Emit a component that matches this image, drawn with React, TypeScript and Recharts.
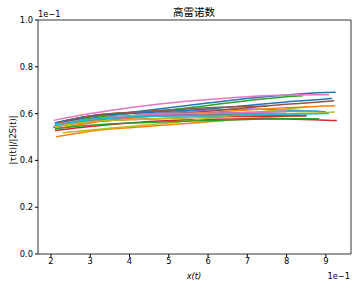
import React from "react";
import { LineChart, Line, XAxis, YAxis, ReferenceArea } from "recharts";

// Each series: [x, y] pairs (x in units of 1e-1, y in units of 1e-1 scale shown)
const s01 = [[2.1, 0.555], [3, 0.585], [4, 0.605], [5, 0.625], [6, 0.645], [7, 0.665], [8, 0.68], [9, 0.69], [9.25, 0.691]];
const s02 = [[2.13, 0.501], [3, 0.525], [4, 0.54], [5, 0.552], [6, 0.565], [7, 0.578], [8, 0.59], [8.3, 0.595]];
const s03 = [[2.1, 0.545], [3, 0.58], [4, 0.6], [5, 0.615], [6, 0.635], [7, 0.655], [8, 0.672], [8.42, 0.676]];
const s04 = [[2.1, 0.528], [3, 0.545], [4, 0.56], [5, 0.57], [6, 0.575], [7, 0.578], [8, 0.577], [9, 0.572], [9.28, 0.57]];
const s05 = [[2.05, 0.541], [3, 0.57], [4, 0.59], [5, 0.605], [6, 0.615], [7, 0.62], [8, 0.615], [9, 0.608]];
const s06 = [[2.1, 0.55], [3, 0.575], [4, 0.59], [5, 0.6], [6, 0.61], [7, 0.625], [8, 0.64], [9, 0.652], [9.21, 0.655]];
const s07 = [[2.07, 0.571], [3, 0.6], [4, 0.625], [5, 0.645], [6, 0.66], [7, 0.672], [8, 0.68], [9.08, 0.681]];
const s08 = [[2.1, 0.56], [3, 0.59], [4, 0.605], [5, 0.6], [6, 0.59], [7, 0.59], [8, 0.592], [8.52, 0.593]];
const s09 = [[2.3, 0.518], [3, 0.53], [4, 0.545], [5, 0.56], [6, 0.58], [7, 0.6], [8, 0.62], [8.57, 0.628]];
const s10 = [[2.1, 0.548], [3, 0.575], [4, 0.59], [5, 0.6], [6, 0.6], [7, 0.605], [8, 0.61], [8.8, 0.611]];
const s11 = [[2.1, 0.56], [3, 0.59], [4, 0.6], [5, 0.61], [6, 0.62], [7, 0.635], [8, 0.65], [9, 0.662], [9.16, 0.665]];
const s12 = [[2.1, 0.535], [3, 0.56], [4, 0.58], [5, 0.595], [6, 0.605], [7, 0.615], [8, 0.625], [9, 0.632], [9.23, 0.634]];
const s13 = [[2.1, 0.535], [3, 0.55], [4, 0.56], [5, 0.565], [6, 0.57], [7, 0.575], [8, 0.578], [8.83, 0.578]];
const s14 = [[2.1, 0.545], [3, 0.565], [4, 0.575], [5, 0.58], [6, 0.585], [7, 0.588], [8, 0.59], [8.5, 0.59]];
const s15 = [[2.1, 0.55], [3, 0.57], [4, 0.585], [5, 0.595], [6, 0.6], [7, 0.605], [8, 0.6]];
const s16 = [[2.2, 0.56], [3, 0.59], [4, 0.605], [5, 0.615], [6, 0.625], [7, 0.63], [7.5, 0.632]];
const s17 = [[2.1, 0.555], [3, 0.575], [4, 0.59], [5, 0.6], [6, 0.6], [7, 0.605], [8, 0.61]];
const s18 = [[2.1, 0.545], [3, 0.57], [4, 0.585], [5, 0.59], [6, 0.595], [7, 0.598], [8, 0.6]];
const s19 = [[2.1, 0.545], [3, 0.565], [4, 0.575], [5, 0.58], [6, 0.585], [7, 0.595], [8, 0.6], [9, 0.605], [9.23, 0.607]];
const s20 = [[2.1, 0.55], [3, 0.575], [4, 0.585], [5, 0.59], [6, 0.59], [7, 0.595], [8, 0.598], [9, 0.6], [9.08, 0.601]];

const allSeries = [s01, s02, s03, s04, s05, s06, s07, s08, s09, s10, s11, s12, s13, s14, s15, s16, s17, s18, s19, s20];
const palette = ["#1f77b4", "#ff7f0e", "#2ca02c", "#d62728", "#9467bd", "#8c564b", "#e377c2", "#7f7f7f", "#bcbd22", "#17becf"];

const xTicks = [2, 3, 4, 5, 6, 7, 8, 9];
const yTicks = [0, 0.2, 0.4, 0.6, 0.8, 1.0];

const FONT = "'DejaVu Sans', 'Noto Sans CJK SC', sans-serif";

export default function App() {
  return (
    <div style={{ position: "absolute", left: 0, top: 0, width: 357, height: 288, background: "#fff" }}>
      <LineChart width={357} height={288} margin={{ top: 20, right: 6, bottom: 0, left: 0 }}>
        <XAxis
          type="number"
          dataKey="x"
          domain={[1.67, 9.64]}
          ticks={xTicks}
          allowDataOverflow
          height={34}
          tickSize={3}
          tickMargin={1}
          stroke="#000"
          tick={{ fill: "#000", fontSize: 8.3, fontFamily: FONT }}
          axisLine={false}
        />
        <YAxis
          type="number"
          domain={[0, 1]}
          ticks={yTicks}
          width={38}
          tickSize={3}
          tickMargin={2}
          stroke="#000"
          tick={{ fill: "#000", fontSize: 8.3, fontFamily: FONT }}
          tickFormatter={(v: number) => v.toFixed(1)}
          axisLine={false}
        />
        {allSeries.map((s, i) => (
          <Line
            key={i}
            data={s.map(([x, y]) => ({ x, y }))}
            dataKey="y"
            type="monotone"
            stroke={palette[i % 10]}
            strokeWidth={1.5}
            dot={false}
            isAnimationActive={false}
          />
        ))}
        <ReferenceArea x1={1.67} x2={9.64} y1={0} y2={1} stroke="#000" strokeWidth={0.8} fill="none" fillOpacity={0} ifOverflow="visible" />
      </LineChart>
      <svg width={357} height={288} style={{ position: "absolute", left: 0, top: 0, pointerEvents: "none" }}>
        <text x={194} y={16} textAnchor="middle" fontSize={10.5} fontFamily="'Noto Sans CJK SC', sans-serif" fill="#000">高雷诺数</text>
        <text x={38} y={17} textAnchor="start" fontSize={8.3} fontFamily={FONT} fill="#000">1e−1</text>
        <text x={350} y={279} textAnchor="end" fontSize={8.3} fontFamily={FONT} fill="#000">1e−1</text>
        <text x={194} y={279} textAnchor="middle" fontSize={8.3} fontFamily={FONT} fontStyle="italic" fill="#000">x(t)</text>
        <text x={0} y={0} transform="translate(16,140) rotate(-90)" textAnchor="middle" fontSize={8.3} fontFamily={FONT} fill="#000">|τ(t)|/|2S(t)|</text>
      </svg>
    </div>
  );
}
